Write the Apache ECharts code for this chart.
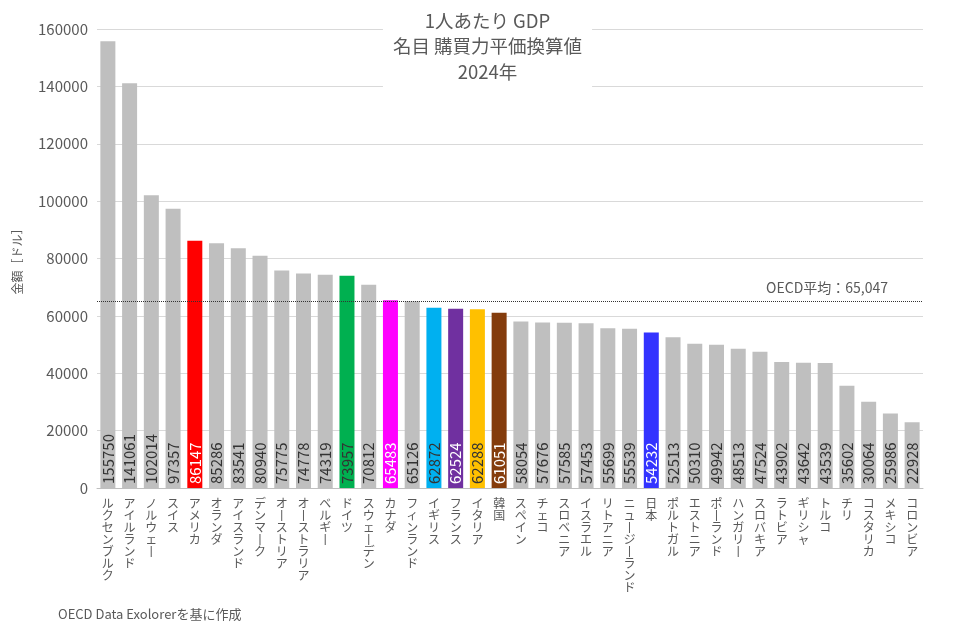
<!DOCTYPE html>
<html><head><meta charset="utf-8">
<script src="https://cdn.jsdelivr.net/npm/echarts@6/dist/echarts.min.js"></script>
<style>html,body{margin:0;padding:0;background:#fff}#c{width:975px;height:637px}</style>
</head><body><div id="c"></div>
<script>
const countries = ['ルクセンブルク','アイルランド','ノルウェー','スイス','アメリカ','オランダ','アイスランド','デンマーク','オーストリア','オーストラリア','ベルギー','ドイツ','スウェーデン','カナダ','フィンランド','イギリス','フランス','イタリア','韓国','スペイン','チェコ','スロベニア','イスラエル','リトアニア','ニュージーランド','日本','ポルトガル','エストニア','ポーランド','ハンガリー','スロバキア','ラトビア','ギリシャ','トルコ','チリ','コスタリカ','メキシコ','コロンビア'];
const values = [155750,141061,102014,97357,86147,85286,83541,80940,75775,74778,74319,73957,70812,65483,65126,62872,62524,62288,61051,58054,57676,57585,57453,55699,55539,54232,52513,50310,49942,48513,47524,43902,43642,43539,35602,30064,25986,22928];
const highlight = {'アメリカ':['#FF0000','#fff'],'ドイツ':['#00B050','#333'],'カナダ':['#FF00FF','#fff'],'イギリス':['#00B0F0','#333'],'フランス':['#7030A0','#fff'],'イタリア':['#FFC000','#333'],'韓国':['#843C0C','#fff'],'日本':['#3333FF','#fff']};
const oecdAvg = 65047;
const yTicks = {min:0, max:160000, interval:20000};
const titleText = '1人あたり GDP\n名目 購買力平価換算値\n2024年';
const font = '"Noto Sans CJK JP", "Noto Sans", sans-serif';

const chart = echarts.init(document.getElementById('c'));
const data = values.map((v,i)=>{
  const h = highlight[countries[i]];
  return {value:v, itemStyle:{color: h?h[0]:'#BFBFBF'}, label:{color: h?h[1]:'#333'}};
});
chart.setOption({
  animation:false,
  textStyle:{fontFamily:font},
  title:{text:titleText,left:'center',top:4,backgroundColor:'#fff',padding:[4,10],
    textStyle:{fontSize:18.5,lineHeight:25.5,fontWeight:'normal',color:'#595959',fontFamily:font}},
  grid:{left:97,right:52,top:29,bottom:149},
  xAxis:{type:'category',data:countries,
    axisLine:{lineStyle:{color:'#BFBFBF'}},axisTick:{show:false},
    axisLabel:{interval:0,color:'#595959',fontSize:12,lineHeight:12,margin:9,verticalAlign:'top',
      formatter:s=>s.replace(/ー/g,'丨').split('').join('\n')}},
  yAxis:{type:'value',min:yTicks.min,max:yTicks.max,interval:yTicks.interval,
    name:'金額［ドル］',nameLocation:'middle',nameRotate:90,nameGap:74,
    nameTextStyle:{color:'#595959',fontSize:12},
    axisLine:{show:false},axisTick:{show:false},
    axisLabel:{color:'#595959',fontSize:15,margin:9,formatter:v=>String(v)},
    splitLine:{lineStyle:{color:'#D9D9D9'}}},
  series:[{type:'bar',data:data,barWidth:15,
    label:{show:true,position:'insideBottom',rotate:90,align:'left',verticalAlign:'middle',distance:4,fontSize:15},
    markLine:{silent:true,symbol:'none',data:[{yAxis:oecdAvg}],
      lineStyle:{type:'dotted',color:'#333',width:1},
      label:{position:'insideEndTop',formatter:'OECD平均：65,047',color:'#595959',fontSize:14,padding:[0,30,2,0]}}}],
  graphic:[{type:'text',left:58,top:608,style:{text:'OECD Data Exolorerを基に作成',fill:'#595959',fontSize:13,fontFamily:font}}]
});
</script></body></html>
